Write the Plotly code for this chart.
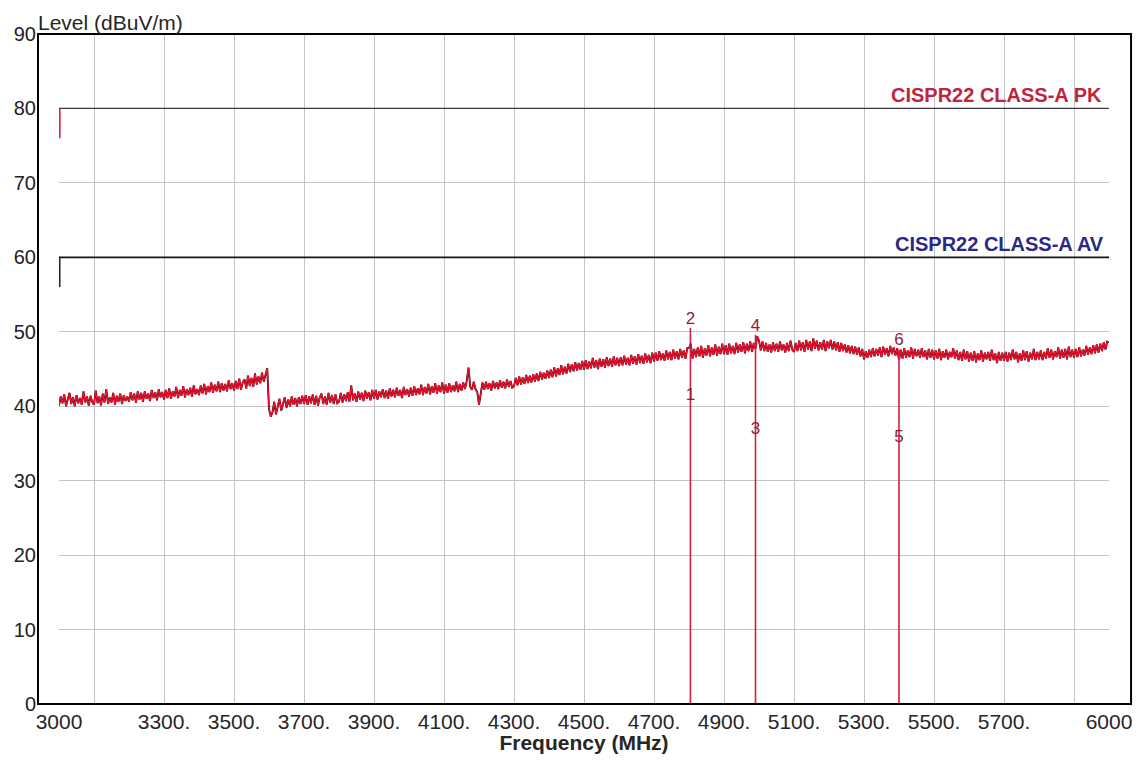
import plotly.graph_objects as go

# ---------------- data ----------------
freq_start = 3000
freq_step = 5
# measured trace level (dBuV/m), one value every 5 MHz from 3000 to 6000 (one row per 100 MHz)
level_rows = [
    [40.1, 41.3, 40.4, 41.6, 40.0, 41.0, 41.8, 40.3, 41.2, 40.0, 41.5, 40.4, 41.1, 40.2, 42.0, 40.5, 41.3, 40.1, 41.4, 40.6],  # 3000
    [40.2, 42.1, 40.4, 41.3, 40.1, 41.7, 40.5, 42.3, 40.3, 41.2, 40.5, 41.8, 40.2, 41.4, 40.6, 41.7, 40.3, 41.5, 40.7, 41.3],  # 3100
    [40.6, 41.9, 40.8, 41.7, 40.5, 42.0, 40.9, 41.8, 40.6, 42.0, 41.0, 41.7, 40.7, 42.2, 41.1, 41.9, 40.8, 42.3, 41.2, 41.9],  # 3200
    [40.9, 42.2, 41.1, 42.4, 41.0, 42.0, 41.3, 42.6, 41.1, 42.2, 41.4, 42.7, 41.2, 42.3, 41.5, 42.5, 41.3, 42.8, 41.6, 42.3],  # 3300
    [41.5, 42.8, 41.7, 43.0, 41.6, 42.7, 41.9, 43.2, 41.8, 42.9, 42.0, 43.3, 41.9, 43.1, 42.1, 43.0, 42.0, 43.5, 42.3, 43.1],  # 3400
    [42.1, 43.4, 42.3, 43.7, 42.2, 43.2, 43.6, 42.4, 44.1, 42.7, 43.8, 42.6, 44.4, 42.9, 44.0, 43.1, 44.5, 43.3, 44.3, 45.1],  # 3500
    [39.6, 38.6, 39.2, 40.6, 38.9, 40.2, 41.0, 39.4, 40.5, 41.2, 39.8, 40.9, 40.0, 41.3, 40.2, 41.1, 40.0, 41.2, 40.3, 41.4],  # 3600
    [40.3, 41.5, 40.2, 41.3, 40.4, 41.6, 40.2, 41.4, 40.1, 41.2, 41.7, 40.3, 41.3, 40.2, 41.8, 40.5, 41.5, 40.3, 41.6, 40.4],  # 3700
    [40.6, 41.8, 40.5, 41.6, 40.7, 41.9, 40.6, 42.8, 40.8, 41.7, 40.6, 42.0, 40.9, 41.8, 40.7, 42.1, 41.0, 41.9, 40.8, 42.2],  # 3800
    [41.0, 42.2, 40.9, 42.0, 41.2, 42.3, 41.1, 42.1, 41.0, 42.4, 41.3, 42.2, 41.2, 42.5, 41.4, 42.2, 41.1, 42.6, 41.5, 42.3],  # 3900
    [41.3, 42.5, 41.4, 42.7, 41.5, 42.4, 41.6, 42.9, 41.5, 42.6, 41.7, 43.0, 41.6, 42.7, 41.8, 43.1, 41.7, 42.8, 41.9, 43.2],  # 4000
    [41.7, 42.9, 41.8, 43.1, 41.9, 42.8, 42.0, 43.3, 41.9, 43.0, 42.1, 43.2, 42.3, 43.4, 45.2, 42.6, 42.2, 43.3, 42.3, 41.9],  # 4100
    [40.2, 42.1, 43.2, 42.2, 43.3, 42.3, 43.1, 42.1, 43.4, 42.4, 43.2, 42.3, 43.5, 42.5, 43.3, 42.4, 43.6, 42.6, 43.4, 42.5],  # 4200
    [42.7, 43.8, 42.8, 44.0, 42.9, 43.9, 43.0, 44.2, 43.1, 44.1, 43.2, 44.3, 43.3, 44.4, 43.4, 44.6, 43.6, 44.5, 43.7, 44.8],  # 4300
    [43.8, 44.9, 43.9, 45.2, 44.0, 45.1, 44.2, 45.5, 44.3, 45.3, 44.4, 45.7, 44.6, 45.6, 44.7, 45.9, 44.8, 45.8, 44.9, 46.1],  # 4400
    [44.9, 46.2, 45.0, 46.0, 45.1, 46.5, 45.2, 46.2, 45.0, 46.4, 45.3, 46.3, 45.2, 46.6, 45.4, 46.4, 45.3, 46.7, 45.5, 46.5],  # 4500
    [45.4, 46.6, 45.5, 46.8, 45.6, 46.5, 45.5, 46.9, 45.7, 46.7, 45.6, 47.0, 45.8, 46.8, 45.7, 47.1, 45.9, 46.9, 45.8, 47.2],  # 4600
    [46.0, 47.2, 46.1, 47.4, 46.2, 47.1, 46.1, 47.5, 46.3, 47.3, 46.2, 47.6, 46.4, 47.4, 46.3, 47.7, 46.5, 47.5, 46.4, 47.8],  # 4700
    [47.8, 48.4, 46.4, 47.7, 46.6, 47.9, 46.7, 48.1, 46.5, 47.8, 46.8, 48.2, 46.7, 47.9, 46.9, 48.3, 46.8, 48.0, 47.0, 48.4],  # 4800
    [47.0, 48.2, 46.9, 48.4, 47.1, 48.1, 47.0, 48.5, 47.2, 48.3, 47.3, 48.6, 47.1, 48.4, 47.4, 48.7, 47.3, 48.5, 47.7, 49.4],  # 4900
    [48.8, 47.5, 48.7, 47.4, 48.5, 47.3, 48.3, 47.2, 48.6, 47.4, 48.4, 47.3, 48.7, 47.5, 48.3, 47.2, 48.5, 47.4, 48.8, 47.6],  # 5000
    [47.3, 48.5, 47.4, 48.8, 47.5, 48.6, 47.3, 48.9, 47.6, 48.7, 47.4, 49.1, 47.7, 48.8, 47.5, 48.6, 47.6, 48.9, 47.4, 48.7],  # 5100
    [47.8, 48.9, 47.6, 48.7, 47.5, 48.6, 47.3, 48.5, 47.4, 48.3, 47.2, 48.2, 47.1, 48.1, 47.0, 48.0, 46.9, 47.9, 46.7, 47.7],  # 5200
    [46.3, 47.4, 46.5, 47.6, 46.6, 47.8, 46.7, 47.7, 46.8, 47.9, 46.6, 48.0, 46.9, 47.8, 46.7, 48.1, 47.0, 47.9, 46.8, 47.8],  # 5300
    [46.2, 47.6, 46.4, 47.8, 46.5, 47.5, 46.6, 47.9, 46.4, 47.7, 46.7, 47.6, 46.5, 47.8, 46.6, 47.5, 46.3, 47.7, 46.5, 47.6],  # 5400
    [46.3, 47.5, 46.4, 47.7, 46.2, 47.4, 46.5, 47.6, 46.3, 47.3, 46.6, 47.8, 46.4, 47.5, 46.2, 47.3, 46.1, 47.6, 46.3, 47.4],  # 5500
    [46.0, 47.2, 46.1, 47.4, 45.9, 47.1, 46.2, 47.5, 46.0, 47.2, 46.3, 47.3, 46.1, 47.6, 46.2, 47.1, 45.8, 47.3, 46.1, 47.2],  # 5600
    [46.1, 47.3, 46.0, 47.2, 46.2, 47.6, 46.3, 47.3, 45.9, 47.1, 46.1, 47.5, 46.2, 47.4, 46.0, 47.2, 46.3, 47.7, 46.2, 47.3],  # 5700
    [46.3, 47.5, 46.2, 47.3, 46.4, 47.8, 46.5, 47.6, 46.3, 47.4, 46.6, 47.9, 46.4, 47.6, 46.5, 47.7, 46.3, 48.0, 46.6, 47.6],  # 5800
    [46.5, 47.7, 46.6, 47.9, 46.7, 47.6, 46.8, 48.1, 46.9, 47.9, 47.0, 48.2, 47.1, 48.3, 47.2, 48.4, 47.4, 48.6, 47.6, 48.7],  # 5900
    [48.6],                                                                                                                    # 6000
]

# limit lines
limit_freq = [3000, 6000]
pk_limit = [80, 80]
av_limit = [60, 60]
pk_limit_below = 76   # limit just below 3000 MHz
av_limit_below = 56

# markers
marker_ids = ["1", "2", "3", "4", "5", "6"]
marker_freq = [4804, 4804, 4990, 4990, 5400, 5400]
marker_level = [40.3, 50.5, 35.7, 49.6, 34.6, 47.6]

# axis ticks
x_grid = [3000, 3100, 3300, 3500, 3700, 3900, 4100, 4300, 4500, 4700,
          4900, 5100, 5300, 5500, 5700, 5900, 6000]
x_text = ["3000", "", "3300.", "3500.", "3700.", "3900.", "4100.", "4300.",
          "4500.", "4700.", "4900.", "5100.", "5300.", "5500.", "5700.", "", "6000"]
y_ticks = [0, 10, 20, 30, 40, 50, 60, 70, 80, 90]

# ---------------- build ----------------
levels = [v for row in level_rows for v in row]
freqs = [freq_start + i * freq_step for i in range(len(levels))]

FONT = "Liberation Sans, Arial, sans-serif"
RED = "#d4203c"

fig = go.Figure()

# measured trace: dark underlay + bright red line
fig.add_trace(go.Scatter(x=freqs, y=levels, mode="lines",
                         line=dict(color="#2a0a0a", width=1.9), hoverinfo="skip"))
fig.add_trace(go.Scatter(x=freqs, y=levels, mode="lines",
                         line=dict(color="#ff0a2c", width=1.3)))

# limit lines (vertical steps sit on the plot edge, so drawn wider)
fig.add_trace(go.Scatter(x=[limit_freq[0], limit_freq[0]], y=[pk_limit_below, pk_limit[0]],
                         mode="lines", line=dict(color="#e0203c", width=3.2)))
fig.add_trace(go.Scatter(x=limit_freq, y=pk_limit, mode="lines",
                         line=dict(color="#3c3c3c", width=1.2)))
fig.add_trace(go.Scatter(x=[limit_freq[0], limit_freq[0]], y=[av_limit_below, av_limit[0]],
                         mode="lines", line=dict(color="#202020", width=3.0)))
fig.add_trace(go.Scatter(x=limit_freq, y=av_limit, mode="lines",
                         line=dict(color="#151515", width=1.6)))

# marker vertical lines (from 0 up to highest reading at each frequency)
mx, my = [], []
top = {}
for f, lv in zip(marker_freq, marker_level):
    top[f] = max(top.get(f, 0), lv)
for f, lv in top.items():
    mx += [f, f, None]
    my += [0, lv, None]
fig.add_trace(go.Scatter(x=mx, y=my, mode="lines",
                         line=dict(color=RED, width=1.6), hoverinfo="skip"))

# marker labels
fig.add_trace(go.Scatter(x=marker_freq, y=marker_level, mode="text",
                         text=marker_ids, textposition="top center",
                         textfont=dict(family=FONT, size=17, color="#8e1e30")))

# limit labels
fig.add_annotation(x=limit_freq[1], y=pk_limit[1], xref="x", yref="y",
                   text="<b>CISPR22 CLASS-A PK</b>", showarrow=False,
                   xanchor="right", yanchor="bottom", xshift=-5, yshift=0,
                   font=dict(family=FONT, size=20, color="#c0243c"))
fig.add_annotation(x=limit_freq[1], y=av_limit[1], xref="x", yref="y",
                   text="<b>CISPR22 CLASS-A AV</b>", showarrow=False,
                   xanchor="right", yanchor="bottom", xshift=-3, yshift=0,
                   font=dict(family=FONT, size=20, color="#2a2a86"))

# outer frame (extends beyond the data region)
fig.add_shape(type="rect", xref="paper", yref="paper",
              x0=-0.02, x1=1.021, y0=0, y1=1,
              line=dict(color="#000000", width=2), layer="above")

fig.update_layout(
    width=1128, height=746, autosize=False,
    margin=dict(l=51, r=27, t=26, b=50, autoexpand=False),
    paper_bgcolor="white", plot_bgcolor="white",
    showlegend=False,
    font=dict(family=FONT, size=20, color="#262626"),
    title=dict(text="Level (dBuV/m)", xref="container", x=0.0266, xanchor="left",
               yref="container", y=0.981, yanchor="middle",
               font=dict(family=FONT, size=21, color="#262626")),
    xaxis=dict(range=[3000, 6000], tickmode="array", tickvals=x_grid, ticktext=x_text,
               showgrid=True, gridcolor="#c4c4c4", gridwidth=1,
               zeroline=False, showline=False, ticks="", automargin=False,
               ticklabelstandoff=3,
               tickfont=dict(family=FONT, size=21, color="#262626"),
               title=dict(text="<b>Frequency (MHz)</b>", standoff=0,
                          font=dict(family=FONT, size=21, color="#262626"))),
    yaxis=dict(range=[0, 90], tickmode="array", tickvals=y_ticks,
               showgrid=True, gridcolor="#c4c4c4", gridwidth=1,
               zeroline=False, showline=False, ticks="", automargin=False,
               ticklabelstandoff=22,
               tickfont=dict(family=FONT, size=20, color="#222222")),
)

fig.write_html("out.html")
